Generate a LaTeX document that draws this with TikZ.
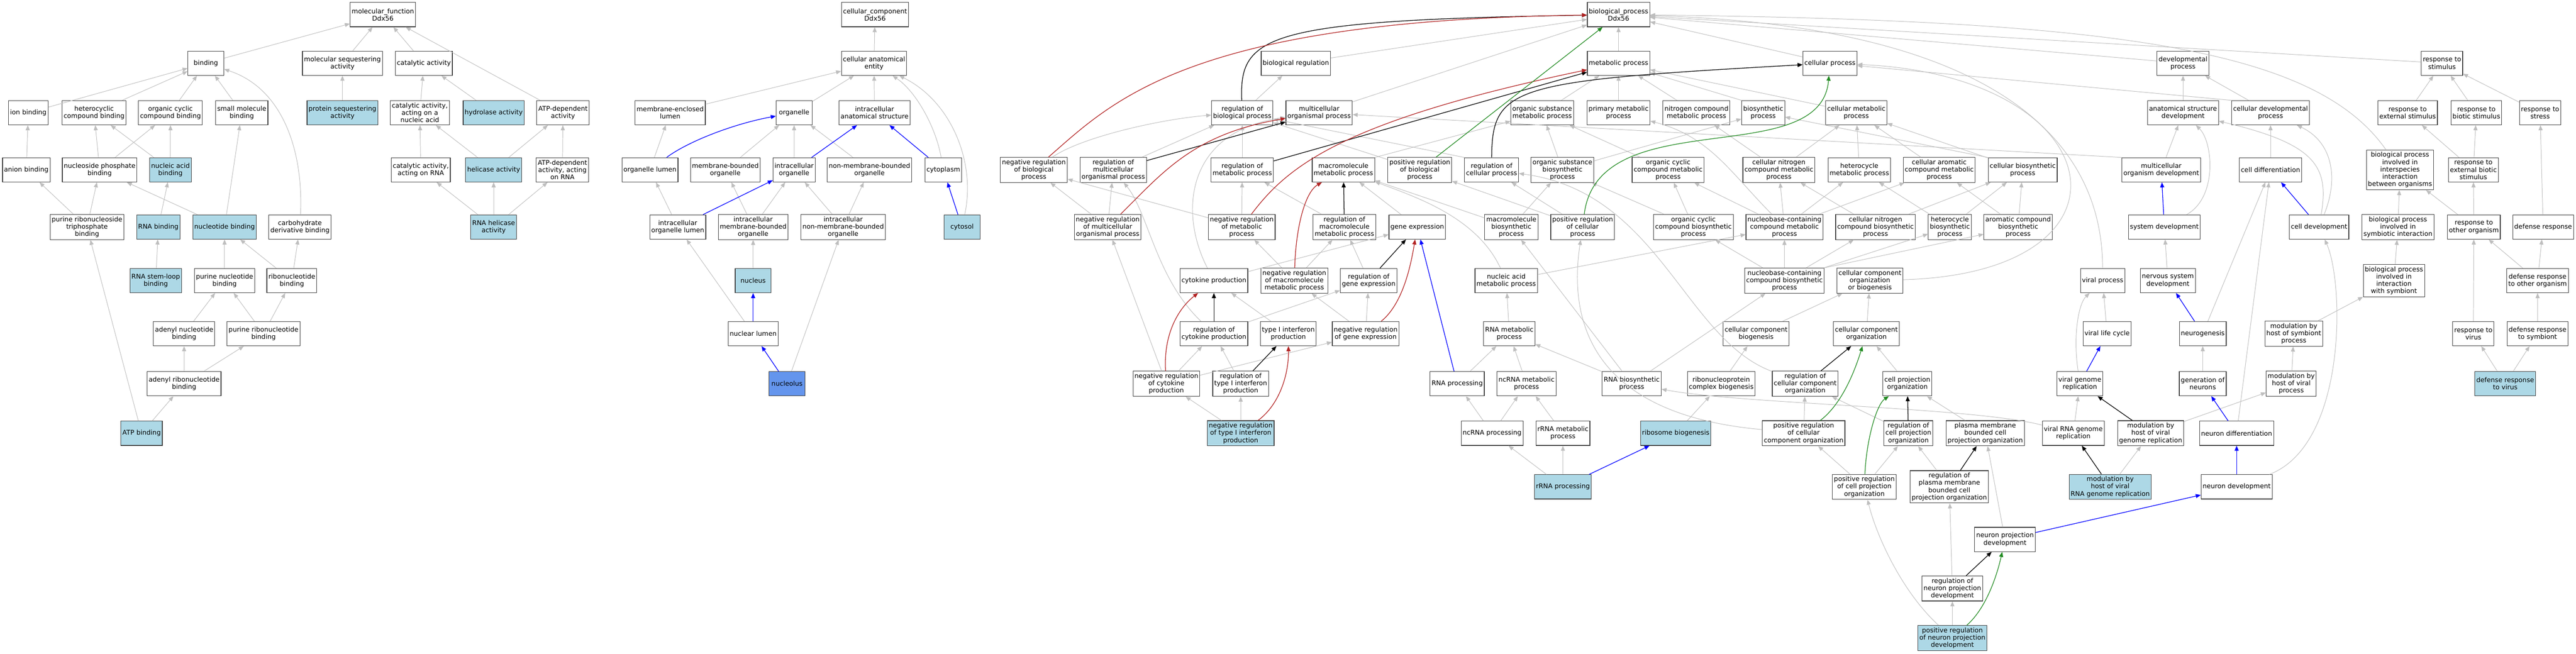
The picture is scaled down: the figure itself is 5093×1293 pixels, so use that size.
\documentclass[tikz,border=0pt]{standalone}
\usepackage{fontspec}
\setmainfont{DejaVu Sans}
\usetikzlibrary{arrows.meta}
\definecolor{edgegray}{HTML}{BEBEBE}
\definecolor{hitblue}{HTML}{ADD8E6}
\definecolor{hitdark}{HTML}{6495ED}
\definecolor{negred}{HTML}{B22222}
\definecolor{posgreen}{HTML}{228B22}
\begin{document}
\begin{tikzpicture}
  [x=1pt,y=-1pt,
   every node/.style={draw=black!75,line width=1.2pt,fill=white,align=center,
     font=\fontsize{12.9}{14.5}\selectfont,inner xsep=3pt,inner ysep=4pt,
     minimum width=71pt,minimum height=48pt},
   hit/.style={fill=hitblue},
   hitdk/.style={fill=hitdark},
   isa/.style={edgegray,line width=1pt,-{Triangle[length=10pt,width=8pt]}},
   reg/.style={black,line width=1.3pt,-{Triangle[length=10pt,width=8pt]}},
   negreg/.style={negred,line width=1.3pt,-{Triangle[length=10pt,width=8pt]}},
   posreg/.style={posgreen,line width=1.3pt,-{Triangle[length=10pt,width=8pt]}},
   partof/.style={blue,line width=1.3pt,-{Triangle[length=10pt,width=8pt]}}]
  \useasboundingbox (0,0) rectangle (5093,1293);

  \node (mf) at (757,29) {molecular\_function\\Ddx56};
  \node (bind) at (407,125) {binding};
  \node (molseq) at (677,125) {molecular sequestering\\activity};
  \node (cat) at (838,125) {catalytic activity};
  \node (ionb) at (56,223) {ion binding};
  \node (hetb) at (186,223) {heterocyclic\\compound binding};
  \node (ocb) at (337,223) {organic cyclic\\compound binding};
  \node (smb) at (478,223) {small molecule\\binding};
  \node[hit] (protseq) at (677,223) {protein sequestering\\activity};
  \node (catna) at (830,223) {catalytic activity,\\acting on a\\nucleic acid};
  \node[hit] (hydro) at (976,223) {hydrolase activity};
  \node (atpdep) at (1113,223) {ATP-dependent\\activity};
  \node (anion) at (52,336) {anion binding};
  \node (nspb) at (197,336) {nucleoside phosphate\\binding};
  \node[hit] (nab) at (337,336) {nucleic acid\\binding};
  \node (catrna) at (832,336) {catalytic activity,\\acting on RNA};
  \node[hit] (heli) at (976,336) {helicase activity};
  \node (atprna) at (1112,336) {ATP-dependent\\activity, acting\\on RNA};
  \node (prntb) at (172,449) {purine ribonucleoside\\triphosphate\\binding};
  \node[hit] (rnab) at (313,449) {RNA binding};
  \node[hit] (ntb) at (444,449) {nucleotide binding};
  \node (cdb) at (593,449) {carbohydrate\\derivative binding};
  \node[hit] (rnaheli) at (976,449) {RNA helicase\\activity};
  \node[hit] (stem) at (308,555) {RNA stem-loop\\binding};
  \node (pnb) at (444,555) {purine nucleotide\\binding};
  \node (rnb) at (577,555) {ribonucleotide\\binding};
  \node (anb) at (364,660) {adenyl nucleotide\\binding};
  \node (prnb) at (521,660) {purine ribonucleotide\\binding};
  \node (arnb) at (364,759) {adenyl ribonucleotide\\binding};
  \node[hit] (atpb) at (280,857) {ATP binding};

  \node (cc) at (1730,29) {cellular\_component\\Ddx56};
  \node (cae) at (1728,125) {cellular anatomical\\entity};
  \node (mel) at (1325,223) {membrane-enclosed\\lumen};
  \node (org) at (1570,223) {organelle};
  \node (ias) at (1729,223) {intracellular\\anatomical structure};
  \node (olum) at (1285,336) {organelle lumen};
  \node (mbo) at (1434,336) {membrane-bounded\\organelle};
  \node (iorg) at (1570,336) {intracellular\\organelle};
  \node (nmbo) at (1719,336) {non-membrane-bounded\\organelle};
  \node (cyto) at (1865,336) {cytoplasm};
  \node (iolum) at (1340,449) {intracellular\\organelle lumen};
  \node (imbo) at (1489,449) {intracellular\\membrane-bounded\\organelle};
  \node (inmbo) at (1667,449) {intracellular\\non-membrane-bounded\\organelle};
  \node[hit] (cytosol) at (1902,449) {cytosol};
  \node[hit] (nucleus) at (1489,555) {nucleus};
  \node (nlum) at (1489,660) {nuclear lumen};
  \node[hitdk] (nucleolus) at (1556,759) {nucleolus};

  \node (bp) at (3200,29) {biological\_process\\Ddx56};
  \node (breg) at (2562,125) {biological regulation};
  \node (mp) at (3200,125) {metabolic process};
  \node (cp) at (3618,125) {cellular process};
  \node (dev) at (4316,125) {developmental\\process};
  \node (rstim) at (4828,125) {response to\\stimulus};
  \node (rbp) at (2456,223) {regulation of\\biological process};
  \node (mop) at (2608,223) {multicellular\\organismal process};
  \node (osmp) at (3049,223) {organic substance\\metabolic process};
  \node (pmp) at (3200,223) {primary metabolic\\process};
  \node (ncmp) at (3354,223) {nitrogen compound\\metabolic process};
  \node (bsp) at (3486,223) {biosynthetic\\process};
  \node (cmp) at (3670,223) {cellular metabolic\\process};
  \node (asd) at (4316,223) {anatomical structure\\development};
  \node (cdp) at (4489,223) {cellular developmental\\process};
  \node (rext) at (4760,223) {response to\\external stimulus};
  \node (rbio) at (4896,223) {response to\\biotic stimulus};
  \node (rstress) at (5022,223) {response to\\stress};
  \node (nrbp) at (2044,336) {negative regulation\\of biological\\process};
  \node (rmop) at (2201,336) {regulation of\\multicellular\\organismal process};
  \node (rmp) at (2456,336) {regulation of\\metabolic process};
  \node (mmp) at (2656,336) {macromolecule\\metabolic process};
  \node (prbp) at (2807,336) {positive regulation\\of biological\\process};
  \node (rcellp) at (2949,336) {regulation of\\cellular process};
  \node (osbp) at (3089,336) {organic substance\\biosynthetic\\process};
  \node (occmp) at (3298,336) {organic cyclic\\compound metabolic\\process};
  \node (cnmp) at (3517,336) {cellular nitrogen\\compound metabolic\\process};
  \node (hmp) at (3676,336) {heterocycle\\metabolic process};
  \node (cacmp) at (3834,336) {cellular aromatic\\compound metabolic\\process};
  \node (cbp) at (3999,336) {cellular biosynthetic\\process};
  \node (mod) at (4273,336) {multicellular\\organism development};
  \node (cdiff) at (4489,336) {cell differentiation};
  \node (bpiii) at (4745,336) {biological process\\involved in\\interspecies\\interaction\\between organisms};
  \node (rebs) at (4890,336) {response to\\external biotic\\stimulus};
  \node (nrmop) at (2190,449) {negative regulation\\of multicellular\\organismal process};
  \node (nrmp) at (2455,449) {negative regulation\\of metabolic\\process};
  \node (rmmp) at (2658,449) {regulation of\\macromolecule\\metabolic process};
  \node (ge) at (2802,449) {gene expression};
  \node (mbp) at (2988,449) {macromolecule\\biosynthetic\\process};
  \node (prcellp) at (3129,449) {positive regulation\\of cellular\\process};
  \node (occbp) at (3348,449) {organic cyclic\\compound biosynthetic\\process};
  \node (ncbmp) at (3528,449) {nucleobase-containing\\compound metabolic\\process};
  \node (cnbp) at (3708,449) {cellular nitrogen\\compound biosynthetic\\process};
  \node (hbp) at (3855,449) {heterocycle\\biosynthetic\\process};
  \node (acbp) at (3990,449) {aromatic compound\\biosynthetic\\process};
  \node (sysdev) at (4279,449) {system development};
  \node (celldev) at (4585,449) {cell development};
  \node (bpisi) at (4741,449) {biological process\\involved in\\symbiotic interaction};
  \node (rto) at (4891,449) {response to\\other organism};
  \node (defr) at (5028,449) {defense response};
  \node (cytprod) at (2400,555) {cytokine production};
  \node (nrmmp) at (2559,555) {negative regulation\\of macromolecule\\metabolic process};
  \node (rge) at (2706,555) {regulation of\\gene expression};
  \node (nampt) at (2978,555) {nucleic acid\\metabolic process};
  \node (ncbbp) at (3528,555) {nucleobase-containing\\compound biosynthetic\\process};
  \node (ccob) at (3697,555) {cellular component\\organization\\or biogenesis};
  \node (virp) at (4157,555) {viral process};
  \node (nsd) at (4286,555) {nervous system\\development};
  \node (bpiws) at (4733,555) {biological process\\involved in\\interaction\\with symbiont};
  \node (drto) at (5017,555) {defense response\\to other organism};
  \node (rcytp) at (2400,660) {regulation of\\cytokine production};
  \node (tip) at (2547,660) {type I interferon\\production};
  \node (nrge) at (2700,660) {negative regulation\\of gene expression};
  \node (rnamp) at (2984,660) {RNA metabolic\\process};
  \node (ccb) at (3472,660) {cellular component\\biogenesis};
  \node (cco) at (3690,660) {cellular component\\organization};
  \node (vlc) at (4166,660) {viral life cycle};
  \node (neurog) at (4355,660) {neurogenesis};
  \node (mbhsp) at (4535,660) {modulation by\\host of symbiont\\process};
  \node (rvirus) at (4890,660) {response to\\virus};
  \node (drts) at (5017,660) {defense response\\to symbiont};
  \node (nrcytp) at (2306,759) {negative regulation\\of cytokine\\production};
  \node (rtip) at (2453,759) {regulation of\\type I interferon\\production};
  \node (rnaproc) at (2881,759) {RNA processing};
  \node (ncrnamp) at (3018,759) {ncRNA metabolic\\process};
  \node (rnabp) at (3226,759) {RNA biosynthetic\\process};
  \node (rcb) at (3403,759) {ribonucleoprotein\\complex biogenesis};
  \node (rcco) at (3569,759) {regulation of\\cellular component\\organization};
  \node (cpo) at (3771,759) {cell projection\\organization};
  \node (vgr) at (4112,759) {viral genome\\replication};
  \node (genneu) at (4355,759) {generation of\\neurons};
  \node (mbhvp) at (4530,759) {modulation by\\host of viral\\process};
  \node[hit] (drv) at (4953,759) {defense response\\to virus};
  \node[hit] (nrtip) at (2453,857) {negative regulation\\of type I interferon\\production};
  \node (ncrnaproc) at (2950,857) {ncRNA processing};
  \node (rrnamp) at (3090,857) {rRNA metabolic\\process};
  \node[hit] (ribo) at (3313,857) {ribosome biogenesis};
  \node (prcco) at (3566,857) {positive regulation\\of cellular\\component organization};
  \node (rcpo) at (3773,857) {regulation of\\cell projection\\organization};
  \node (pmbcpo) at (3925,857) {plasma membrane\\bounded cell\\projection organization};
  \node (vrgr) at (4099,857) {viral RNA genome\\replication};
  \node (mbhvgr) at (4252,857) {modulation by\\host of viral\\genome replication};
  \node (neudiff) at (4422,857) {neuron differentiation};
  \node[hit] (rrnaproc) at (3090,963) {rRNA processing};
  \node (prcpo) at (3686,963) {positive regulation\\of cell projection\\organization};
  \node (rpmbcpo) at (3854,963) {regulation of\\plasma membrane\\bounded cell\\projection organization};
  \node[hit] (mbhvrgr) at (4172,963) {modulation by\\host of viral\\RNA genome replication};
  \node (neudev) at (4422,963) {neuron development};
  \node (npd) at (3964,1067) {neuron projection\\development};
  \node (rnpd) at (3860,1164) {regulation of\\neuron projection\\development};
  \node[hit] (prnpd) at (3860,1262) {positive regulation\\of neuron projection\\development};

  \foreach \from/\to in {bind/mf,molseq/mf,cat/mf,atpdep/mf,ionb/bind,hetb/bind,ocb/bind,smb/bind,
      protseq/molseq,catna/cat,hydro/cat,anion/ionb,nspb/hetb,nspb/ocb,nab/hetb,nab/ocb,
      catrna/catna,heli/catna,heli/atpdep,atprna/atpdep,prntb/anion,prntb/nspb,rnab/nab,
      ntb/nspb,ntb/smb,rnaheli/catrna,rnaheli/heli,rnaheli/atprna,stem/rnab,pnb/ntb,rnb/ntb,
      rnb/cdb,anb/pnb,prnb/pnb,prnb/rnb,arnb/anb,arnb/prnb,atpb/arnb,atpb/prntb,
      cae/cc,mel/cae,org/cae,ias/cae,olum/mel,mbo/org,iorg/org,nmbo/org,iolum/olum,
      imbo/mbo,imbo/iorg,inmbo/iorg,inmbo/nmbo,nucleus/imbo,nlum/iolum,nucleolus/inmbo,
      breg/bp,mop/bp,mp/bp,cp/bp,dev/bp,rstim/bp,rbp/breg,osmp/mp,pmp/mp,ncmp/mp,cmp/mp,
      bsp.north west/mp,cdp.north west/cp,rmop/rbp,rmp/rbp,prbp/rbp,rcellp.north west/rbp,
      mmp.north east/osmp,occmp/osmp,osbp/osmp,osbp/bsp,cnmp/cmp,cnmp/ncmp,hmp/cmp,cacmp/cmp,
      cbp/cmp,cbp.north west/bsp,mod.north west/mop,mod/asd,asd/dev,cdp/dev,cdiff/cdp,
      rext/rstim,rbio/rstim,rstress/rstim,nrmop/nrbp,nrmop/rmop,nrmp/nrbp,nrmp/rmp,
      rmmp/rmp,ge/mmp,mbp/mmp,mbp/osbp,prcellp/rcellp,prcellp/prbp,occbp/occmp,occbp/osbp,
      ncbmp/cnmp,ncbmp/hmp,ncbmp/cacmp,ncbmp/occmp,cnbp/cnmp,cnbp/cbp,hbp/hmp,hbp/cbp,
      acbp/cbp,acbp/cacmp,bpisi/bpiii,rto/bpiii,rto/rebs,rebs/rext,rebs/rbio,defr/rstress,
      cytprod/ge,nrmmp/rmmp,nrmmp/nrmp,rge/rmmp,nampt/ncbmp,ncbbp/ncbmp,ncbbp/occbp,
      ncbbp/cnbp,ncbbp/hbp,ncbbp.north east/acbp,ccb/ccob,cco/ccob,nsd/sysdev,bpiws/bpisi,
      drto/rto,drto/defr,rcytp/rge,tip/cytprod,nrge/rge,nrge/nrmmp,rnamp/nampt,neurog/cdiff,
      mbhsp/bpiws,rvirus/rto,drts/drto,nrcytp/rcytp,nrcytp/nrmop,nrcytp/nrge,rtip/rcytp,
      rnaproc/rnamp,ncrnamp/rnamp,rnabp/rnamp,rnabp/mbp,rnabp/ncbbp,rcb/ccb,cpo/cco,
      vlc/virp,genneu/neurog,mbhvp/mbhsp,nrtip/rtip,nrtip/nrcytp,ncrnaproc/rnaproc,
      ncrnaproc/ncrnamp,rrnamp/ncrnamp,ribo/rcb,prcco/rcco,rcpo/rcco,pmbcpo/cpo,vrgr/vgr,
      mbhvgr/mbhvp,neudiff/cdiff,rrnaproc/ncrnaproc,rrnaproc/rrnamp,prcpo/prcco,prcpo/rcpo,
      rpmbcpo/rcpo,mbhvrgr/mbhvgr,npd/pmbcpo,rnpd/rpmbcpo,prnpd/rnpd,drv/rvirus,drv/drts}
    \draw[isa] (\from) -- (\to);

  \draw[isa] (cdb) .. controls (600,300) and (560,175) .. (bind);
  \draw[isa] (cyto) .. controls (1850,250) and (1810,180) .. (cae);
  \draw[isa] (cytosol) .. controls (1930,320) and (1880,200) .. (cae);
  \draw[isa] (virp) .. controls (4157,250) and (3900,50) .. (bp);
  \draw[isa] (bpiii) .. controls (4580,100) and (4200,40) .. (bp);
  \draw[isa] (ccob) .. controls (4250,540) and (4180,150) .. (cp);
  \draw[isa] (ncbmp) .. controls (3420,340) and (3380,270) .. (pmp);
  \draw[isa] (sysdev) .. controls (4385,390) and (4375,280) .. (asd);
  \draw[isa] (celldev) .. controls (4605,330) and (4580,285) .. (asd);
  \draw[isa] (celldev) .. controls (4625,350) and (4610,280) .. (cdp);
  \draw[isa] (cytprod) .. controls (2330,420) and (2345,260) .. (mop);
  \draw[isa] (nampt) .. controls (2920,430) and (2800,390) .. (mmp);
  \draw[isa] (rcytp) .. controls (2285,550) and (2270,420) .. (rmop);
  \draw[isa] (rcco) .. controls (3330,670) and (3280,380) .. (rcellp);
  \draw[isa] (prcco) .. controls (3150,820) and (3100,640) .. (prcellp);
  \draw[isa] (vrgr) .. controls (3900,805) and (3450,800) .. (rnabp);
  \draw[isa] (neudev) .. controls (4640,880) and (4635,560) .. (celldev);
  \draw[isa] (prnpd) .. controls (3760,1170) and (3710,1060) .. (prcpo);
  \draw[isa] (vgr) .. controls (4098,660) and (4110,600) .. (virp);
  \draw[isa] (nrbp) .. controls (2140,270) and (2300,235) .. (rbp);

  \foreach \from/\to in {rmop/mop,rmmp/mmp,rcytp/cytprod,rtip/tip,rge/ge,rcco/cco,rcpo/cpo,
      rpmbcpo/pmbcpo,rnpd/npd,mbhvrgr/vrgr,mbhvgr/vgr,rmp/mp}
    \draw[reg] (\from) -- (\to);
  \draw[reg] (rbp) .. controls (2450,70) and (2500,40) .. (bp);
  \draw[reg] (rcellp) .. controls (2950,170) and (2990,160) .. (cp);

  \draw[negreg] (nrbp) .. controls (2200,200) and (2350,40) .. (bp);
  \draw[negreg] (nrmp) .. controls (2545,330) and (2650,240) .. (mp);
  \draw[negreg] (nrmop) .. controls (2300,340) and (2360,265) .. (mop);
  \draw[negreg] (nrmmp) .. controls (2562,450) and (2580,380) .. (mmp);
  \draw[negreg] (nrcytp) .. controls (2300,660) and (2330,610) .. (cytprod);
  \draw[negreg] (nrtip) .. controls (2530,800) and (2548,740) .. (tip);
  \draw[negreg] (nrge) .. controls (2775,600) and (2790,520) .. (ge);

  \draw[posreg] (prbp) -- (bp);
  \draw[posreg] (prcellp) .. controls (3160,200) and (3600,340) .. (cp);
  \draw[posreg] (prcco) .. controls (3640,800) and (3665,740) .. (cco);
  \draw[posreg] (prcpo) .. controls (3690,870) and (3710,800) .. (cpo);
  \draw[posreg] (prnpd) .. controls (3930,1200) and (3950,1130) .. (npd);

  \foreach \from/\to in {iorg/ias,cyto/ias,iolum/iorg,cytosol/cyto,nlum/nucleus,nucleolus/nlum,
      rnaproc/ge,rrnaproc/ribo,vgr/vlc,sysdev/mod,celldev/cdiff,neurog/nsd,neudiff/genneu,
      neudev/neudiff,npd/neudev}
    \draw[partof] (\from) -- (\to);
  \draw[partof] (olum) .. controls (1360,280) and (1450,245) .. (org);

\end{tikzpicture}
\end{document}
